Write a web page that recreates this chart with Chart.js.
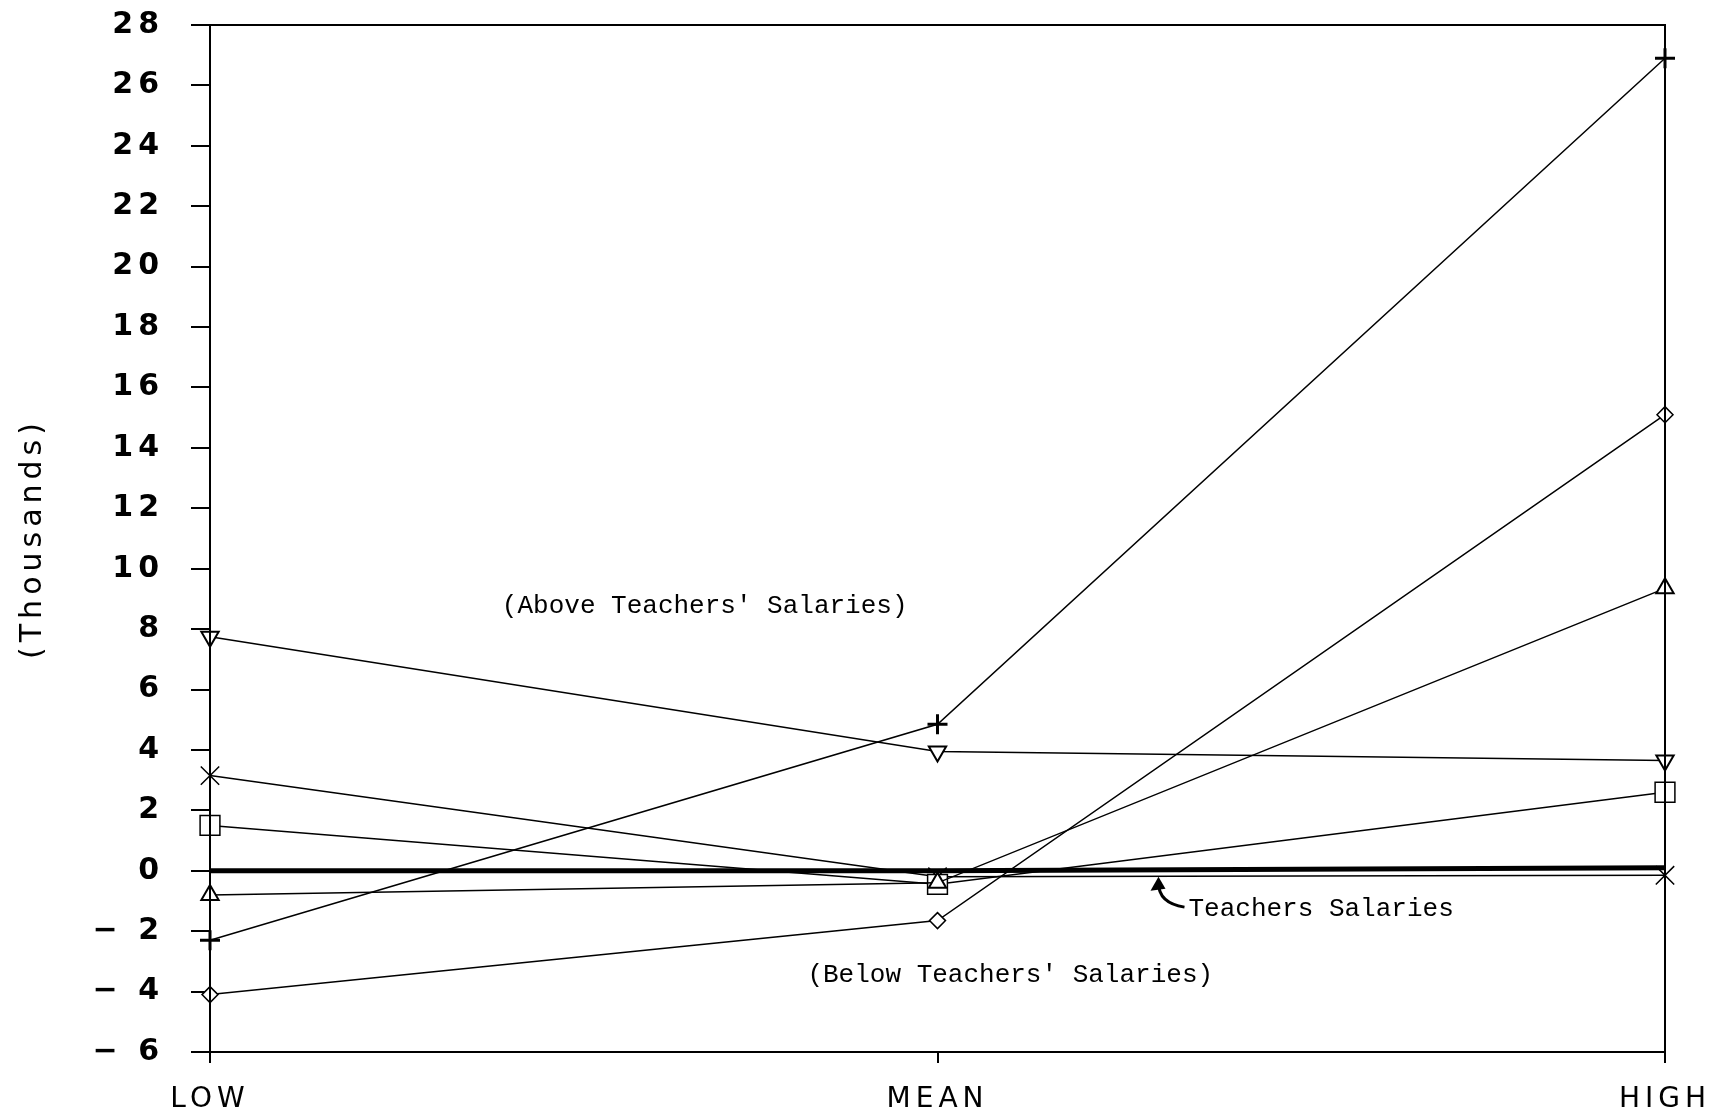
<!DOCTYPE html>
<html>
<head>
<meta charset="utf-8">
<script src="https://cdn.jsdelivr.net/npm/chart.js@4/dist/chart.umd.min.js"></script>
<style>
    body { margin: 0; background: #fff; }
    canvas { display: block; }
</style>
</head>
<body>
<canvas id="canvas1" width="1713" height="1115"></canvas>
<script>
// DONNEES
let categories = ['LOW', 'MEAN', 'HIGH'];
let teachersSalaries = [0, 0, 0.1];
let plusValues = [-2.3, 4.85, 26.9];
let diamondValues = [-4.1, -1.65, 15.1];
let triangleValues = [-0.8, -0.4, 9.35];
let downTriangleValues = [7.75, 3.95, 3.65];
let squareValues = [1.5, -0.45, 2.6];
let crossValues = [3.15, -0.2, -0.15];

// textes dans le graphique (x = index de categorie, y = milliers)
let notes = [
    { text: "(Above Teachers' Salaries)", x: 0.68, y: 8.75 },
    { text: "(Below Teachers' Salaries)", x: 1.10, y: -3.45 },
];
let teachersLabel = { text: 'Teachers Salaries', x: 1.345, y: -1.27 };

// fonction pour une serie avec marqueurs
function serie(values, style, radius, rotation, width) {
    return {
        data: values,
        borderColor: '#000',
        borderWidth: 1.5,
        tension: 0,
        pointStyle: style,
        pointRadius: radius,
        pointRotation: rotation,
        pointBorderColor: '#000',
        pointBorderWidth: width,
        pointBackgroundColor: '#fff',
    };
}

// espacement des lettres pour les axes (texte plus large comme l'original)
let spacingPlugin = {
    id: 'spacing',
    beforeLayout(chart) { chart.ctx.letterSpacing = '5px'; },
    beforeDraw(chart) { chart.ctx.letterSpacing = '5px'; }
};

// plugin : cadre + annotations
let decorPlugin = {
    id: 'decor',
    afterDatasetsDraw(chart) {
        let ctx = chart.ctx;
        let area = chart.chartArea;
        let xs = chart.scales.x;
        let ys = chart.scales.y;
        ctx.save();
        ctx.letterSpacing = '0px';
        ctx.strokeStyle = '#000';
        ctx.lineWidth = 2;
        ctx.strokeRect(area.left, area.top, area.right - area.left, area.bottom - area.top);

        ctx.fillStyle = '#000';
        ctx.font = '26px "Liberation Mono"';
        ctx.textAlign = 'center';
        ctx.textBaseline = 'middle';
        notes.forEach(n => ctx.fillText(n.text, xs.getPixelForValue(n.x), ys.getPixelForValue(n.y)));

        // Teachers Salaries + fleche
        let tx = xs.getPixelForValue(teachersLabel.x);
        let ty = ys.getPixelForValue(teachersLabel.y);
        ctx.textAlign = 'left';
        ctx.fillText(teachersLabel.text, tx, ty);
        let endX = tx - 30;
        let endY = ys.getPixelForValue(0) + 8;
        ctx.lineWidth = 3;
        ctx.beginPath();
        ctx.moveTo(tx - 4, ty - 2);
        ctx.quadraticCurveTo(endX, ty - 6, endX, endY + 4);
        ctx.stroke();
        ctx.beginPath();
        ctx.moveTo(endX, endY - 2);
        ctx.lineTo(endX - 8, endY + 12);
        ctx.lineTo(endX + 7, endY + 10);
        ctx.closePath();
        ctx.fill();
        ctx.restore();
    }
};

let canvas = document.getElementById('canvas1');
let graph = canvas.getContext('2d');

let config = {
    type: 'line',
    data: {
        labels: categories,
        datasets: [
            {
                data: teachersSalaries,
                borderColor: '#000',
                borderWidth: 5,
                pointRadius: 0,
                tension: 0,
            },
            serie(plusValues, 'cross', 10, 0, 3),
            serie(diamondValues, 'rectRot', 8, 0, 1.5),
            serie(triangleValues, 'triangle', 10, 0, 2),
            serie(downTriangleValues, 'triangle', 10, 180, 2),
            serie(squareValues, 'rect', 14, 0, 1.5),
            serie(crossValues, 'crossRot', 13, 0, 1.5),
        ]
    },
    options: {
        responsive: false,
        animation: false,
        devicePixelRatio: 1,
        layout: {
            padding: { top: 25, right: 48, left: 0, bottom: 0 }
        },
        plugins: {
            legend: { display: false },
            tooltip: { enabled: false },
        },
        scales: {
            x: {
                type: 'category',
                offset: false,
                grid: {
                    drawOnChartArea: false,
                    tickLength: 11,
                    color: '#000',
                    lineWidth: 2,
                },
                border: { color: '#000', width: 2 },
                ticks: {
                    color: '#000',
                    font: { family: 'DejaVu Sans', size: 28 },
                    padding: 20,
                    maxRotation: 0,
                },
                afterFit: function (scale) {
                    scale.height = 63;
                    scale.paddingLeft = 0;
                    scale.paddingRight = 0;
                }
            },
            y: {
                min: -6,
                max: 28,
                grid: {
                    drawOnChartArea: false,
                    tickLength: 19,
                    color: '#000',
                    lineWidth: 2,
                },
                border: { color: '#000', width: 2 },
                ticks: {
                    stepSize: 2,
                    color: '#000',
                    font: { family: 'DejaVu Sans', size: 30, weight: 'bold' },
                    padding: 27,
                    callback: function (v) { return v < 0 ? '\u2212 ' + Math.abs(v) : v; }
                },
                title: {
                    display: true,
                    text: '(Thousands)',
                    color: '#000',
                    font: { family: 'DejaVu Sans', size: 30 },
                    padding: { top: 15, bottom: 0 },
                },
                afterFit: function (scale) {
                    scale.width = 210;
                    scale.paddingTop = 0;
                    scale.paddingBottom = 0;
                }
            }
        }
    },
    plugins: [spacingPlugin, decorPlugin]
};

let chart = new Chart(graph, config);
</script>
</body>
</html>
